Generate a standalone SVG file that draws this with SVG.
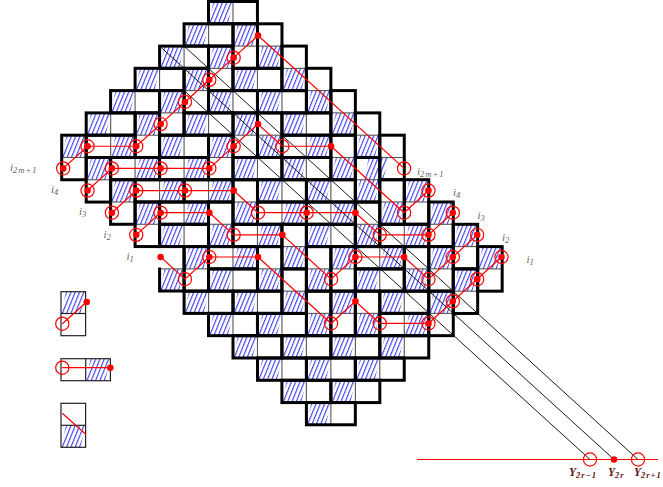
<svg xmlns="http://www.w3.org/2000/svg" width="663" height="487" viewBox="0 0 663 487">
<style>
.o{fill:none;stroke:#000;stroke-width:3;stroke-linejoin:miter;stroke-linecap:square}
.t{stroke:#555;stroke-width:1.1;fill:none}
.k{stroke:#000;stroke-width:.9;fill:none}
.r{stroke:#f00;stroke-width:1.2;fill:none;stroke-linejoin:round}
.c{stroke:#f00;stroke-width:1.2;fill:none}
.d{fill:#f00}
.l{stroke:#222;stroke-width:1.2;fill:none}
.i{font-family:"Liberation Serif",serif;font-style:italic;font-size:11px;fill:#666}
.y{font-family:"Liberation Serif",serif;font-style:italic;font-weight:bold;font-size:11.5px;fill:#5a1414}
.s{font-size:8.5px;letter-spacing:1px}
</style>
<defs>
<pattern id="h" patternUnits="userSpaceOnUse" width="4.3" height="10" patternTransform="skewX(-22)">
<line x1="1.5" y1="0" x2="1.5" y2="10" stroke="#2a2aee" stroke-width="1.1"/>
</pattern>
<polygon id="H" points="0,22.28 5,0 24.47,0 19.47,22.28" fill="url(#h)"/>
<g id="D"><use href="#H"/><line class="t" x1="24.47" y1="0" x2="24.47" y2="22.28"/><rect class="o" width="48.94" height="22.28"/></g>
<g id="B"><use href="#H" x="24.47"/><line class="t" x1="24.47" y1="0" x2="24.47" y2="22.28"/><rect class="o" width="48.94" height="22.28"/></g>
<g id="A"><use href="#H"/><line class="t" x1="0" y1="22.28" x2="24.47" y2="22.28"/><rect class="o" width="24.47" height="44.56"/></g>
<g id="C"><use href="#H" y="22.28"/><line class="t" x1="0" y1="22.28" x2="24.47" y2="22.28"/><rect class="o" width="24.47" height="44.56"/></g>
<circle id="m" class="c" r="6.6"/>
<circle id="p" class="d" r="3.3"/>
</defs>
<g id="tiling">
<use href="#H" x="363.8" y="157.5"/>
<use href="#D" x="208.5" y="1.5"/><use href="#D" x="184.1" y="23.8"/><use href="#D" x="159.6" y="46.1"/><use href="#D" x="135.1" y="68.3"/><use href="#D" x="233" y="68.3"/><use href="#D" x="110.6" y="90.6"/><use href="#D" x="208.5" y="90.6"/><use href="#D" x="257.5" y="90.6"/><use href="#D" x="86.2" y="112.9"/><use href="#D" x="184.1" y="112.9"/><use href="#D" x="281.9" y="112.9"/><use href="#D" x="159.6" y="135.2"/><use href="#D" x="233" y="157.5"/><use href="#D" x="281.9" y="157.5"/><use href="#D" x="257.5" y="179.7"/><use href="#D" x="306.4" y="179.7"/><use href="#D" x="159.6" y="224.3"/><use href="#D" x="306.4" y="224.3"/><use href="#D" x="208.5" y="268.9"/><use href="#D" x="355.3" y="268.9"/><use href="#D" x="184.1" y="291.1"/><use href="#D" x="233" y="291.1"/><use href="#D" x="379.8" y="291.1"/><use href="#D" x="208.5" y="313.4"/><use href="#D" x="257.5" y="313.4"/><use href="#D" x="233" y="335.7"/><use href="#D" x="281.9" y="335.7"/><use href="#D" x="330.9" y="335.7"/><use href="#D" x="379.8" y="335.7"/><use href="#D" x="257.5" y="358"/><use href="#D" x="306.4" y="358"/><use href="#D" x="355.3" y="358"/><use href="#D" x="281.9" y="380.3"/><use href="#D" x="330.9" y="380.3"/><use href="#D" x="306.4" y="402.5"/>
<use href="#B" x="86.2" y="135.2"/><use href="#B" x="110.6" y="157.5"/><use href="#B" x="159.6" y="157.5"/><use href="#B" x="281.9" y="135.2"/><use href="#B" x="135.1" y="179.7"/><use href="#B" x="184.1" y="179.7"/><use href="#B" x="257.5" y="202"/><use href="#B" x="306.4" y="202"/><use href="#B" x="379.8" y="224.3"/><use href="#B" x="159.6" y="202"/><use href="#B" x="233" y="224.3"/><use href="#B" x="355.3" y="246.6"/><use href="#B" x="208.5" y="246.6"/><use href="#B" x="379.8" y="313.4"/>
<use href="#A" x="61.7" y="135.2"/><use href="#A" x="135.1" y="112.9"/><use href="#A" x="159.6" y="90.6"/><use href="#A" x="184.1" y="68.3"/><use href="#A" x="208.5" y="46.1"/><use href="#A" x="233" y="23.8"/><use href="#A" x="86.2" y="157.5"/><use href="#A" x="208.5" y="135.2"/><use href="#A" x="233" y="112.9"/><use href="#A" x="404.3" y="179.7"/><use href="#A" x="110.6" y="179.7"/><use href="#A" x="428.8" y="202"/><use href="#A" x="135.1" y="202"/><use href="#A" x="330.9" y="246.6"/><use href="#A" x="428.8" y="246.6"/><use href="#A" x="453.2" y="224.3"/><use href="#A" x="184.1" y="246.6"/><use href="#A" x="330.9" y="291.1"/><use href="#A" x="428.8" y="291.1"/><use href="#A" x="453.2" y="268.9"/><use href="#A" x="477.7" y="246.6"/>
<use href="#C" x="257.5" y="23.8"/><use href="#C" x="281.9" y="46.1"/><use href="#C" x="306.4" y="68.3"/><use href="#C" x="330.9" y="90.6"/><use href="#C" x="355.3" y="112.9"/><use href="#C" x="257.5" y="112.9"/><use href="#C" x="330.9" y="135.2"/><use href="#C" x="355.3" y="157.5"/><use href="#C" x="379.8" y="179.7"/><use href="#C" x="233" y="179.7"/><use href="#C" x="355.3" y="202"/><use href="#C" x="208.5" y="202"/><use href="#C" x="281.9" y="224.3"/><use href="#C" x="306.4" y="246.6"/><use href="#C" x="404.3" y="246.6"/><use href="#C" x="257.5" y="246.6"/><use href="#C" x="281.9" y="268.9"/><use href="#C" x="306.4" y="291.1"/><use href="#C" x="355.3" y="291.1"/>
<line class="t" x1="379.8" y1="157.5" x2="404.3" y2="157.5"/><rect class="o" x="379.8" y="135.2" width="24.47" height="44.56"/>
<use href="#H" x="159.6" y="268.9"/><line class="t" x1="159.6" y1="268.9" x2="184.1" y2="268.9"/><path class="o" d="M159.6,246.6H184.1V291.1H159.6V268.9"/>
</g>
<g id="connectors">
<path class="k" d="M159.6,46.1L614,459.5M184.1,46.1L638,459.5M184.1,90.6L590,459.5"/>
<path class="r" d="M417,459.5H658"/>
<polyline class="r" points="63.2,168.4 87.55,146.25 136.25,146.25 160.6,124.1 184.95,101.95 209.3,79.8 233.65,57.65 258,35.5 404.1,168.4"/>
<polyline class="r" points="87.55,190.55 111.9,168.4 209.3,168.4 258,124.1 282.35,146.25 331.05,146.25 404.1,212.7 428.45,190.55"/>
<polyline class="r" points="111.9,212.7 136.25,190.55 233.65,190.55 258,212.7 355.4,212.7 379.75,234.85 428.45,234.85 452.8,212.7"/>
<polyline class="r" points="136.25,234.85 160.6,212.7 209.3,212.7 233.65,234.85 282.35,234.85 331.05,279.15 355.4,257 404.1,257 428.45,279.15 477.15,234.85"/>
<polyline class="r" points="160.6,257 184.95,279.15 209.3,257 258,257 331.05,323.45 355.4,301.3 379.75,323.45 428.45,323.45 501.5,257"/>
</g>
<g id="circles">
<use href="#m" x="63.2" y="168.4"/><use href="#m" x="87.55" y="146.25"/><use href="#m" x="136.25" y="146.25"/><use href="#m" x="160.6" y="124.1"/><use href="#m" x="184.95" y="101.95"/><use href="#m" x="209.3" y="79.8"/><use href="#m" x="233.65" y="57.65"/><use href="#m" x="404.1" y="168.4"/>
<use href="#m" x="87.55" y="190.55"/><use href="#m" x="111.9" y="168.4"/><use href="#m" x="160.6" y="168.4"/><use href="#m" x="209.3" y="168.4"/><use href="#m" x="233.65" y="146.25"/><use href="#m" x="282.35" y="146.25"/><use href="#m" x="404.1" y="212.7"/><use href="#m" x="428.45" y="190.55"/>
<use href="#m" x="111.9" y="212.7"/><use href="#m" x="136.25" y="190.55"/><use href="#m" x="184.95" y="190.55"/><use href="#m" x="258" y="212.7"/><use href="#m" x="306.7" y="212.7"/><use href="#m" x="379.75" y="234.85"/><use href="#m" x="428.45" y="234.85"/><use href="#m" x="452.8" y="212.7"/>
<use href="#m" x="136.25" y="234.85"/><use href="#m" x="160.6" y="212.7"/><use href="#m" x="233.65" y="234.85"/><use href="#m" x="331.05" y="279.15"/><use href="#m" x="355.4" y="257"/><use href="#m" x="428.45" y="279.15"/><use href="#m" x="452.8" y="257"/><use href="#m" x="477.15" y="234.85"/>
<use href="#m" x="184.95" y="279.15"/><use href="#m" x="209.3" y="257"/><use href="#m" x="331.05" y="323.45"/><use href="#m" x="379.75" y="323.45"/><use href="#m" x="428.45" y="323.45"/><use href="#m" x="452.8" y="301.3"/><use href="#m" x="477.15" y="279.15"/><use href="#m" x="501.5" y="257"/>
<use href="#m" x="590" y="459.5"/><use href="#m" x="638" y="459.5"/>
</g>
<g id="dots">
<use href="#p" x="63.2" y="168.4"/><use href="#p" x="87.55" y="146.25"/><use href="#p" x="136.25" y="146.25"/><use href="#p" x="160.6" y="124.1"/><use href="#p" x="184.95" y="101.95"/><use href="#p" x="209.3" y="79.8"/><use href="#p" x="233.65" y="57.65"/><use href="#p" x="258" y="35.5"/>
<use href="#p" x="87.55" y="190.55"/><use href="#p" x="111.9" y="168.4"/><use href="#p" x="160.6" y="168.4"/><use href="#p" x="209.3" y="168.4"/><use href="#p" x="233.65" y="146.25"/><use href="#p" x="258" y="124.1"/><use href="#p" x="331.05" y="146.25"/><use href="#p" x="428.45" y="190.55"/>
<use href="#p" x="111.9" y="212.7"/><use href="#p" x="136.25" y="190.55"/><use href="#p" x="184.95" y="190.55"/><use href="#p" x="233.65" y="190.55"/><use href="#p" x="306.7" y="212.7"/><use href="#p" x="355.4" y="212.7"/><use href="#p" x="428.45" y="234.85"/><use href="#p" x="452.8" y="212.7"/>
<use href="#p" x="136.25" y="234.85"/><use href="#p" x="160.6" y="212.7"/><use href="#p" x="209.3" y="212.7"/><use href="#p" x="282.35" y="234.85"/><use href="#p" x="355.4" y="257"/><use href="#p" x="404.1" y="257"/><use href="#p" x="452.8" y="257"/><use href="#p" x="477.15" y="234.85"/>
<use href="#p" x="160.6" y="257"/><use href="#p" x="209.3" y="257"/><use href="#p" x="258" y="257"/><use href="#p" x="355.4" y="301.3"/><use href="#p" x="428.45" y="323.45"/><use href="#p" x="452.8" y="301.3"/><use href="#p" x="477.15" y="279.15"/><use href="#p" x="501.5" y="257"/>
<use href="#p" x="614" y="459.5"/>
</g>
<g id="legend">
<use href="#H" x="61" y="291.7"/><rect class="l" x="61" y="291.7" width="24.6" height="44"/><line class="l" x1="61" y1="313.5" x2="85.6" y2="313.5"/>
<line class="r" x1="62.3" y1="323.7" x2="86.7" y2="302"/><use href="#m" x="62.3" y="323.7"/><use href="#p" x="86.7" y="302"/>
<use href="#H" x="85.7" y="358.7"/><rect class="l" x="61" y="358.7" width="49.4" height="22"/><line class="l" x1="85.7" y1="358.7" x2="85.7" y2="380.7"/>
<line class="r" x1="62.3" y1="367.7" x2="110.3" y2="367.7"/><use href="#m" x="62.3" y="367.7"/><use href="#p" x="110.3" y="367.7"/>
<use href="#H" x="61" y="425.3"/><rect class="l" x="61" y="403.3" width="24.6" height="44"/><line class="l" x1="61" y1="425.3" x2="85.6" y2="425.3"/>
<line class="r" x1="62.3" y1="413.3" x2="85.7" y2="434.3"/>
</g>
<g id="labels">
<text class="i" x="10" y="171">i<tspan class="s" dy="1.5">2m+1</tspan></text>
<text class="i" x="51" y="193">i<tspan class="s" dy="1.5">4</tspan></text>
<text class="i" x="79" y="215">i<tspan class="s" dy="1.5">3</tspan></text>
<text class="i" x="103.5" y="238">i<tspan class="s" dy="1.5">2</tspan></text>
<text class="i" x="126.5" y="260">i<tspan class="s" dy="1.5">1</tspan></text>
<text class="i" x="417" y="175">i<tspan class="s" dy="1.5">2m+1</tspan></text>
<text class="i" x="453" y="196">i<tspan class="s" dy="1.5">4</tspan></text>
<text class="i" x="477.5" y="219">i<tspan class="s" dy="1.5">3</tspan></text>
<text class="i" x="502" y="241">i<tspan class="s" dy="1.5">2</tspan></text>
<text class="i" x="526.5" y="263">i<tspan class="s" dy="1.5">1</tspan></text>
<text class="y" x="569" y="476">Y<tspan class="s" dy="1.5">2r−1</tspan></text>
<text class="y" x="608" y="476">Y<tspan class="s" dy="1.5">2r</tspan></text>
<text class="y" x="634" y="476">Y<tspan class="s" dy="1.5">2r+1</tspan></text>
</g>
</svg>
